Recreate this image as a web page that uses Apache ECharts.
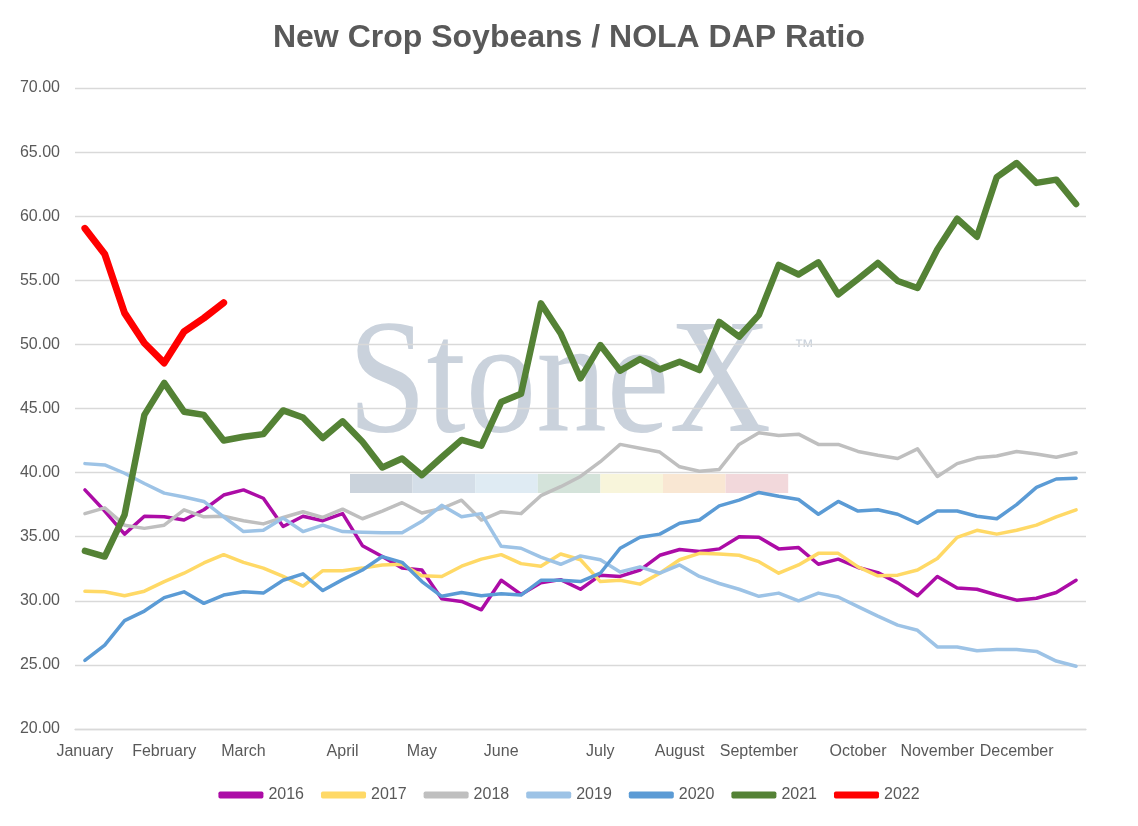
<!DOCTYPE html>
<html>
<head>
<meta charset="utf-8">
<script src="https://cdn.jsdelivr.net/npm/echarts@6/dist/echarts.min.js"></script>
<style>
  html, body { margin: 0; padding: 0; background: #fff; }
  #chart { width: 1138px; height: 826px; }
</style>
</head>
<body>
<div id="chart"></div>
<script>
var chart = echarts.init(document.getElementById('chart'));

// week slots on the category axis (51 weekly points)
var weeks = [];
for (var i = 1; i <= 51; i++) weeks.push('W' + i);

// month tick labels and the week they sit on
var monthLabels = ['January', 'February', 'March', 'April', 'May', 'June',
    'July', 'August', 'September', 'October', 'November', 'December'];
var monthWeek = [0, 4, 8, 13, 17, 21, 26, 30, 34, 39, 43, 47];

var yTicks = [20, 25, 30, 35, 40, 45, 50, 55, 60, 65, 70];

var s2016 = [38.65, 37.0, 35.2, 36.6, 36.55, 36.3, 37.1, 38.25, 38.65, 38.0,
    35.8, 36.6, 36.25, 36.8, 34.3, 33.45, 32.55, 32.4, 30.15, 29.95,
    29.3, 31.6, 30.5, 31.4, 31.65, 30.9, 32.0, 31.9, 32.4, 33.55,
    34.0, 33.85, 34.05, 35.0, 34.95, 34.05, 34.15, 32.85, 33.25, 32.6,
    32.2, 31.4, 30.4, 31.9, 31.0, 30.9, 30.45, 30.05, 30.2, 30.65, 31.6];
var s2017 = [30.75, 30.7, 30.4, 30.75, 31.5, 32.15, 32.95, 33.6, 33.0, 32.55,
    31.9, 31.15, 32.35, 32.35, 32.55, 32.8, 32.85, 31.95, 31.9, 32.7,
    33.25, 33.6, 32.9, 32.7, 33.65, 33.2, 31.5, 31.6, 31.3, 32.15,
    33.2, 33.7, 33.65, 33.55, 33.05, 32.15, 32.8, 33.7, 33.7, 32.65,
    31.95, 32.0, 32.4, 33.3, 34.95, 35.5, 35.2, 35.5, 35.9, 36.55, 37.1];
var s2018 = [36.8, 37.25, 35.9, 35.65, 35.9, 37.1, 36.55, 36.6, 36.25, 36.0,
    36.5, 36.95, 36.5, 37.15, 36.4, 37.0, 37.65, 36.85, 37.2, 37.85,
    36.3, 36.95, 36.8, 38.2, 38.9, 39.7, 40.85, 42.2, 41.9, 41.6,
    40.45, 40.1, 40.25, 42.2, 43.1, 42.9, 43.0, 42.2, 42.2, 41.65,
    41.35, 41.1, 41.85, 39.7, 40.7, 41.15, 41.3, 41.65, 41.45, 41.2, 41.55];
var s2019 = [40.7, 40.6, 39.95, 39.15, 38.4, 38.1, 37.75, 36.55, 35.4, 35.5,
    36.45, 35.4, 35.9, 35.4, 35.35, 35.3, 35.3, 36.2, 37.45, 36.55,
    36.8, 34.25, 34.1, 33.4, 32.85, 33.5, 33.2, 32.25, 32.65, 32.15,
    32.8, 31.9, 31.35, 30.9, 30.35, 30.6, 30.0, 30.6, 30.3, 29.55,
    28.8, 28.1, 27.7, 26.4, 26.4, 26.1, 26.2, 26.2, 26.05, 25.3, 24.9];
var s2020 = [25.35, 26.55, 28.45, 29.2, 30.25, 30.7, 29.8, 30.45, 30.7, 30.6,
    31.6, 32.1, 30.8, 31.65, 32.4, 33.45, 33.0, 31.5, 30.35, 30.65,
    30.4, 30.55, 30.45, 31.6, 31.6, 31.5, 32.15, 34.1, 34.95, 35.2,
    36.05, 36.3, 37.4, 37.85, 38.45, 38.15, 37.9, 36.75, 37.75, 37.0,
    37.1, 36.75, 36.05, 37.0, 37.0, 36.6, 36.4, 37.5, 38.85, 39.5, 39.55];
var s2021 = [33.9, 33.45, 36.7, 44.5, 47.0, 44.75, 44.5, 42.5, 42.8, 43.0,
    44.85, 44.3, 42.7, 44.0, 42.4, 40.4, 41.1, 39.8, 41.2, 42.55,
    42.1, 45.5, 46.15, 53.2, 50.85, 47.35, 49.95, 47.95, 48.85, 48.05,
    48.65, 48.0, 51.75, 50.6, 52.3, 56.2, 55.45, 56.4, 53.9, 55.1,
    56.35, 54.95, 54.4, 57.4, 59.8, 58.4, 63.05, 64.15, 62.6, 62.85, 60.95];
var s2022 = [59.05, 57.05, 52.45, 50.1, 48.55, 51.0, 52.05, 53.25];

var years = ['2016', '2017', '2018', '2019', '2020', '2021', '2022'];
var values = [s2016, s2017, s2018, s2019, s2020, s2021, s2022];
var colors = ['#AC0CA6', '#FFD966', '#BFBFBF', '#9DC3E6', '#5B9BD5', '#548235', '#FF0000'];
var widths = [3.5, 3.5, 3.5, 3.5, 3.5, 6.5, 7];

var font = '"Liberation Sans", Arial, sans-serif';

// StoneX watermark behind the lines
var stripColors = ['#CBD3DC', '#D4DEE8', '#DFEBF3', '#D4E3DA', '#F8F5DB', '#F9E7D3', '#F2D8DB'];
var graphic = [{
    type: 'text', x: 348, y: 388, scaleX: 0.86, z: -10,
    style: { text: 'StoneX', font: '164px "Liberation Serif", serif', fill: '#CAD2DC', verticalAlign: 'middle' }
}, {
    type: 'text', x: 794, y: 347, z: -10,
    style: { text: '™', font: '20px "Liberation Sans", sans-serif', fill: '#CAD2DC', verticalAlign: 'middle' }
}];
stripColors.forEach(function (c, k) {
    graphic.push({
        type: 'rect', z: -10,
        shape: { x: 350 + k * 62.6, y: 474, width: 62.6, height: 19 },
        style: { fill: c }
    });
});

var option = {
    animation: false,
    title: {
        text: 'New Crop Soybeans / NOLA DAP Ratio',
        left: 'center',
        top: 22,
        padding: 0,
        textStyle: { fontFamily: font, fontSize: 32, fontWeight: 'bold', color: '#595959' }
    },
    graphic: graphic,
    legend: {
        bottom: 18,
        left: 'center',
        icon: 'roundRect',
        itemWidth: 45,
        itemHeight: 7,
        itemGap: 17,
        textStyle: { fontFamily: font, fontSize: 16, color: '#595959' },
        data: years
    },
    grid: { left: 75, right: 52, top: 88, bottom: 97 },
    xAxis: {
        type: 'category',
        data: weeks,
        boundaryGap: true,
        axisLine: { lineStyle: { color: '#D9D9D9', width: 1.3 } },
        axisTick: { show: false },
        axisLabel: {
            interval: function (idx) { return monthWeek.indexOf(idx) >= 0; },
            formatter: function (val, idx) {
                var m = monthWeek.indexOf(idx);
                return m >= 0 ? monthLabels[m] : '';
            },
            fontFamily: font, fontSize: 16, color: '#595959', margin: 15
        }
    },
    yAxis: {
        type: 'value',
        min: yTicks[0],
        max: yTicks[yTicks.length - 1],
        interval: 5,
        axisLine: { show: false },
        axisTick: { show: false },
        splitLine: { lineStyle: { color: '#D9D9D9', width: 1.3 } },
        axisLabel: {
            formatter: function (v) { return v.toFixed(2); },
            fontFamily: font, fontSize: 16, color: '#595959', margin: 15
        }
    },
    series: years.map(function (y, k) {
        return {
            name: y,
            type: 'line',
            data: values[k],
            symbol: 'none',
            color: colors[k],
            z: 2 + k,
            lineStyle: { color: colors[k], width: widths[k], cap: 'round', join: 'round' }
        };
    })
};
chart.setOption(option);
</script>
</body>
</html>
